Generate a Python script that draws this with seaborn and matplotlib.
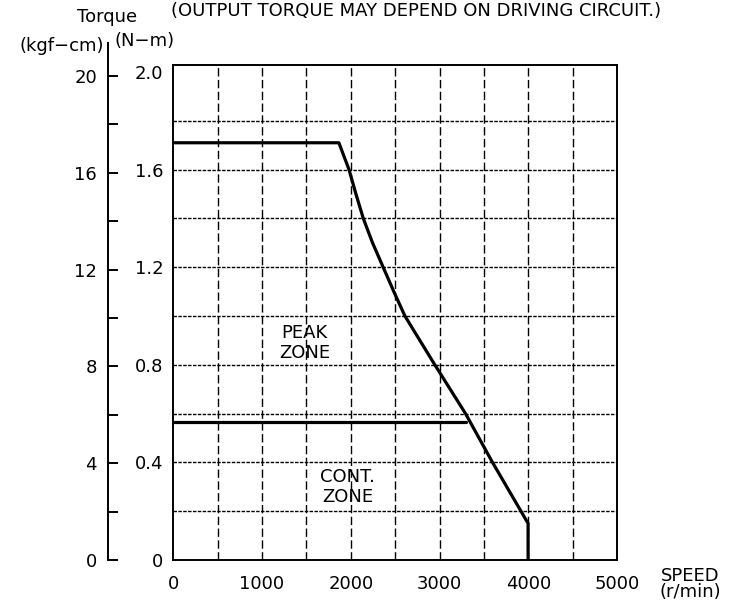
import matplotlib
matplotlib.use("Agg")
import matplotlib.pyplot as plt
import pandas as pd
import seaborn as sns

# Peak torque curve (speed r/min, torque N-m)
peak_speed = [0, 1866, 1980, 2058, 2141, 2245, 2365, 2485, 2610, 2947, 3293, 3597, 3998, 3998]
peak_torque = [1.71, 1.71, 1.60, 1.50, 1.40, 1.30, 1.20, 1.10, 1.00, 0.80, 0.60, 0.40, 0.15, 0.0]

# Continuous torque line
cont_speed = [0, 3304]
cont_torque = [0.564, 0.564]

# Axis ticks
speed_ticks = [0, 1000, 2000, 3000, 4000, 5000]
speed_grid = [500, 1000, 1500, 2000, 2500, 3000, 3500, 4000, 4500]
nm_ticks = [0, 0.4, 0.8, 1.2, 1.6, 2.0]
nm_labels = ["0", "0.4", "0.8", "1.2", "1.6", "2.0"]
nm_grid = [0.2, 0.4, 0.6, 0.8, 1.0, 1.2, 1.4, 1.6, 1.8]
kgf_ticks = [0, 2, 4, 6, 8, 10, 12, 14, 16, 18, 20]
kgf_labels = ["0", "", "4", "", "8", "", "12", "", "16", "", "20"]

sns.set_style("white")
plt.rcParams["font.family"] = ["DejaVu Sans"]
plt.rcParams["text.color"] = "black"
plt.rcParams["xtick.color"] = "black"
plt.rcParams["ytick.color"] = "black"
FS = 13

W, H = 738, 607
fig = plt.figure(figsize=(W / 100, H / 100), dpi=100)


def fx(px):
    return px / W


def fy(py):
    return 1 - py / H


# Main chart (N-m)
left, right, top, bottom = 173.3, 617, 65, 560
ax = fig.add_axes([fx(left), fy(bottom), fx(right - left), (bottom - top) / H])
ax.set_xlim(0, 5000)
ax.set_ylim(0, (bottom - top) / 244)

# Grid lines
ax.vlines(speed_grid, 0, 2.1, colors="black", linewidth=1.0,
          linestyles=(0, (6, 2.5)), zorder=1)
ax.hlines(nm_grid, 0, 5000, colors="black", linewidth=1.0,
          linestyles=(0, (2.5, 1)), zorder=1)

df_peak = pd.DataFrame({"speed": peak_speed, "torque": peak_torque})
df_cont = pd.DataFrame({"speed": cont_speed, "torque": cont_torque})
sns.lineplot(data=df_peak, x="speed", y="torque", sort=False, estimator=None,
             color="black", linewidth=2.3, ax=ax, zorder=3)
sns.lineplot(data=df_cont, x="speed", y="torque", sort=False, estimator=None,
             color="black", linewidth=2.3, ax=ax, zorder=3)

for s in ax.spines.values():
    s.set_linewidth(1.4)
    s.set_color("black")

ax.set_xticks(speed_ticks)
ax.set_xticklabels([str(v) for v in speed_ticks], fontsize=FS)
ax.set_yticks(nm_ticks)
ax.set_yticklabels(nm_labels, fontsize=FS)
ax.tick_params(axis="x", length=0, pad=11)
ax.tick_params(axis="y", length=0, pad=7)
ax.set_xlabel("")
ax.set_ylabel("")

ax.text(1480, 0.89, "PEAK\nZONE", fontsize=FS, ha="center",
        va="center", linespacing=1.1)
ax.text(1965, 0.30, "CONT.\nZONE", fontsize=FS, ha="center",
        va="center", linespacing=1.1)

# Secondary kgf-cm scale on the left
k_top = 43
ax2 = fig.add_axes([fx(108), fy(bottom), 0.001, (bottom - k_top) / H])
ax2.set_ylim(0, (bottom - k_top) / 24.2)
ax2.set_xticks([])
ax2.set_yticks(kgf_ticks)
ax2.set_yticklabels(kgf_labels, fontsize=FS)
ax2.tick_params(axis="y", left=True, direction="in", length=7.5, width=1.4, pad=8)
for name, s in ax2.spines.items():
    s.set_visible(name == "left")
ax2.spines["left"].set_linewidth(1.4)
ax2.spines["left"].set_color("black")
ax2.patch.set_visible(False)

# Labels
fig.text(fx(107), fy(17), "Torque", fontsize=FS, ha="center", va="center")
fig.text(fx(104), fy(46), "(kgf\u2212cm)", fontsize=FS, ha="right", va="center")
fig.text(fx(115), fy(41), "(N\u2212m)", fontsize=FS, ha="left", va="center")
fig.text(fx(416), fy(11), "(OUTPUT TORQUE MAY DEPEND ON DRIVING CIRCUIT.)",
         fontsize=13, ha="center", va="center")
fig.text(fx(690), fy(584), "SPEED\n(r/min)", fontsize=FS, ha="center",
         va="center", linespacing=0.85)

fig.savefig("out.png", dpi=100)
